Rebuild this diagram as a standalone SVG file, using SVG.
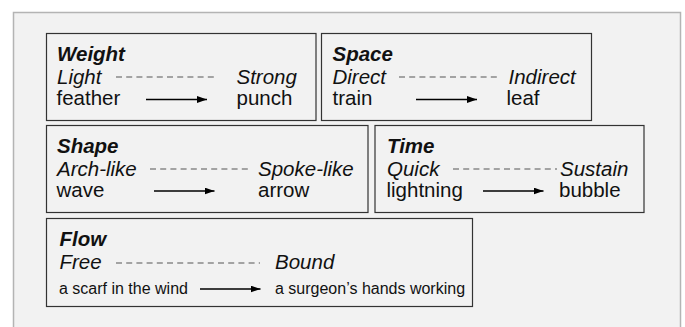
<svg xmlns="http://www.w3.org/2000/svg" width="685" height="327" viewBox="0 0 685 327">
<style>
.box{fill:#f2f2f2;stroke:#333;stroke-width:1.2}
.t{font-family:"Liberation Sans",Arial,sans-serif;font-size:20.5px;fill:#111}
.h{font-weight:bold;font-style:italic}
.i{font-style:italic}
.s{font-size:16px}
.dash{stroke:#555;stroke-width:1.2;stroke-dasharray:6 4.2;fill:none}
.arr{stroke:#000;stroke-width:1.5;fill:none;marker-end:url(#ah)}
</style>
<defs>
<marker id="ah" viewBox="0 0 10 7" refX="10" refY="3.5" markerWidth="10" markerHeight="7" markerUnits="userSpaceOnUse" orient="auto">
<path d="M0,0 L10,3.5 L0,7 z" fill="#000"/>
</marker>
</defs>
<rect x="0" y="0" width="685" height="327" fill="#fff"/>
<rect x="13.5" y="12.5" width="667" height="330" fill="#f2f2f2" stroke="#b4b4b4" stroke-width="1.5"/>

<g id="weight">
<rect class="box" x="46.5" y="33.5" width="269.5" height="87"/>
<text class="t h" x="57" y="61">Weight</text>
<text class="t i" x="57" y="83.5">Light</text>
<text class="t i" x="236.5" y="83.5">Strong</text>
<text class="t" x="56.5" y="105">feather</text>
<text class="t" x="236.5" y="105">punch</text>
</g>
<g id="space">
<rect class="box" x="321.5" y="33.5" width="270" height="87"/>
<text class="t h" x="332.5" y="61">Space</text>
<text class="t i" x="332.5" y="83.5">Direct</text>
<text class="t i" x="508.5" y="83.5">Indirect</text>
<text class="t" x="332.5" y="105">train</text>
<text class="t" x="506.5" y="105">leaf</text>
</g>
<g id="shape">
<rect class="box" x="46.5" y="125.5" width="321.5" height="87"/>
<text class="t h" x="57" y="153">Shape</text>
<text class="t i" x="57" y="175.5">Arch-like</text>
<text class="t i" x="258" y="175.5">Spoke-like</text>
<text class="t" x="56.5" y="197">wave</text>
<text class="t" x="258" y="197">arrow</text>
</g>
<g id="time">
<rect class="box" x="375" y="125.5" width="269" height="87"/>
<text class="t h" x="387" y="153">Time</text>
<text class="t i" x="387" y="175.5">Quick</text>
<text class="t i" x="560" y="175.5">Sustain</text>
<text class="t" x="386.5" y="197">lightning</text>
<text class="t" x="559" y="197">bubble</text>
</g>
<g id="flow">
<rect class="box" x="46.5" y="218.5" width="426" height="88"/>
<text class="t h" x="59.5" y="246">Flow</text>
<text class="t i" x="59.5" y="268.5">Free</text>
<text class="t i" x="275" y="268.5">Bound</text>
<text class="t s" x="59" y="293.5">a scarf in the wind</text>
<text class="t s" x="275" y="293.5">a surgeon’s hands working</text>
</g>

<g id="connectors">
<line class="dash" x1="116" y1="77" x2="218" y2="77"/>
<line class="arr" x1="146" y1="99.5" x2="207" y2="99.5"/>
<line class="dash" x1="399" y1="77" x2="501" y2="77"/>
<line class="arr" x1="416" y1="99.5" x2="477" y2="99.5"/>
<line class="dash" x1="150" y1="169" x2="251" y2="169"/>
<line class="arr" x1="154" y1="191" x2="214.5" y2="191"/>
<line class="dash" x1="453" y1="169" x2="557" y2="169"/>
<line class="arr" x1="483" y1="191" x2="543.5" y2="191"/>
<line class="dash" x1="116" y1="263" x2="260" y2="263"/>
<line class="arr" x1="200" y1="289" x2="260.5" y2="289"/>
</g>
</svg>
